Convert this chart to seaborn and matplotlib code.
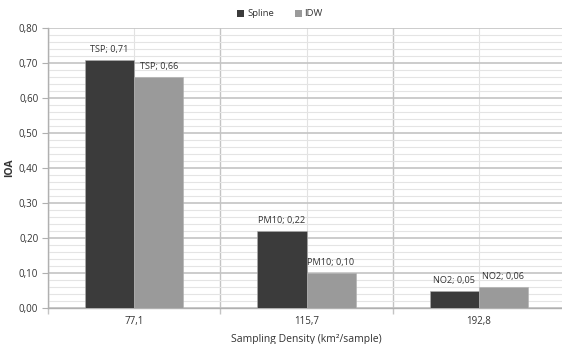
import numpy as np
import pandas as pd
import matplotlib
matplotlib.use("Agg")
import matplotlib.pyplot as plt
from matplotlib.ticker import MultipleLocator, FuncFormatter, FixedLocator
import seaborn as sns

# Data
densities = ["77,1", "115,7", "192,8"]
pollutants = ["TSP", "PM10", "NO2"]
spline_ioa = [0.71, 0.22, 0.05]
idw_ioa = [0.66, 0.10, 0.06]
methods = ["Spline", "IDW"]

df = pd.DataFrame({
    "density": densities * 2,
    "pollutant": pollutants * 2,
    "method": ["Spline"] * 3 + ["IDW"] * 3,
    "ioa": spline_ioa + idw_ioa,
})

sns.set_theme(style="white")
plt.rcParams["font.family"] = ["Open Sans", "DejaVu Sans"]
text_color = "#333333"

fig = plt.figure(figsize=(5.62, 3.44), dpi=100)
ax = fig.add_axes([48 / 562, 1 - 308 / 344, 517 / 562, 280 / 344])

palette = {"Spline": "#3b3b3b", "IDW": "#9a9a9a"}
sns.barplot(data=df, x="density", y="ioa", hue="method", hue_order=methods,
            order=densities, palette=palette, width=0.57, gap=0,
            saturation=1, ax=ax, zorder=3, edgecolor="#b0b0b0", linewidth=0.4)

ax.set_xlim(-0.5, 2.5)
ax.set_ylim(0, 0.8)

# y axis: majors every 0.10, minors every 0.02
ax.yaxis.set_major_locator(MultipleLocator(0.1))
ax.yaxis.set_minor_locator(MultipleLocator(0.02))
ax.yaxis.set_major_formatter(FuncFormatter(lambda v, p: f"{v:.2f}".replace(".", ",")))
ax.grid(axis="y", which="major", color="#c4c4c4", linewidth=1.2, zorder=0)
ax.grid(axis="y", which="minor", color="#e4e4e4", linewidth=0.8, zorder=0)

# x axis: lighter lines at category centres, darker at boundaries
ax.xaxis.set_minor_locator(FixedLocator([-0.5, 0.5, 1.5, 2.5]))
ax.grid(axis="x", which="major", color="#e2e2e2", linewidth=0.8, zorder=0)
ax.grid(axis="x", which="minor", color="#c4c4c4", linewidth=1.0, zorder=0)
ax.set_axisbelow(True)

ax.tick_params(axis="y", which="major", direction="out", length=4, width=0.8,
               color="#b0b0b0", labelsize=7, labelcolor=text_color, pad=3, left=True)
ax.tick_params(axis="y", which="minor", length=0)
ax.tick_params(axis="x", which="major", length=0, labelsize=7,
               labelcolor=text_color, pad=6)
ax.tick_params(axis="x", which="minor", direction="out", length=4, width=1.0,
               color="#c4c4c4", bottom=True)

for s in ["top", "right"]:
    ax.spines[s].set_visible(False)
for s in ["left", "bottom"]:
    ax.spines[s].set_color("#b0b0b0")
    ax.spines[s].set_linewidth(1.0)

ax.set_xlabel("Sampling Density (km²/sample)", fontsize=7.5, color=text_color, labelpad=5)
ax.set_ylabel("IOA", fontsize=7.5, color=text_color, labelpad=3, fontweight="bold")

# Value labels above each bar
for container, method in zip(ax.containers, methods):
    sub = df[df["method"] == method].set_index("density").loc[densities]
    labels = [f"{p}; {v:.2f}".replace(".", ",") for p, v in zip(sub["pollutant"], sub["ioa"])]
    ax.bar_label(container, labels=labels, padding=4, fontsize=6.6, color=text_color)

# Legend at top
sns.move_legend(ax, "center", bbox_to_anchor=(280 / 562, 1 - 14 / 344),
                bbox_transform=fig.transFigure, ncol=2, frameon=False, title=None,
                fontsize=6.8, handlelength=0.75, handleheight=0.75,
                handletextpad=0.3, columnspacing=2.2, labelcolor=text_color)
for h in ax.get_legend().legend_handles:
    h.set_edgecolor("none")

fig.savefig("out.png", dpi=100, facecolor="white")
